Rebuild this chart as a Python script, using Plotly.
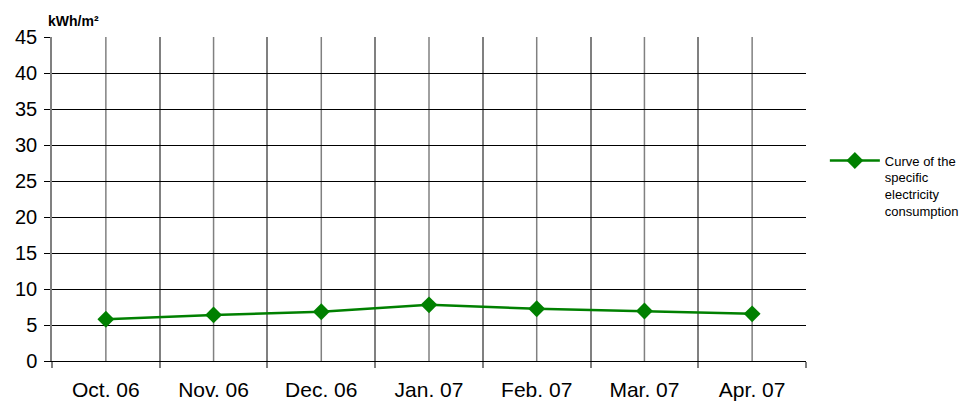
import plotly.graph_objects as go

months = ["Oct. 06", "Nov. 06", "Dec. 06", "Jan. 07", "Feb. 07", "Mar. 07", "Apr. 07"]
consumption = [5.8, 6.4, 6.85, 7.8, 7.25, 6.95, 6.55]
y_ticks = list(range(0, 50, 5))

GREEN = "#008000"
GRID_V = "#808080"
FONT = "Liberation Sans, Arial, sans-serif"

fig = go.Figure()

fig.add_trace(
    go.Scatter(
        x=months,
        y=consumption,
        name="Curve of the<br>specific<br>electricity<br>consumption",
        mode="lines+markers",
        line=dict(color=GREEN, width=2.5),
        marker=dict(symbol="diamond", size=13, color=GREEN),
    )
)

# gray vertical lines through each category centre
for m in months:
    fig.add_vline(x=m, line=dict(color=GRID_V, width=1.5), layer="below")

fig.update_xaxes(
    type="category",
    range=[-0.5, len(months) - 0.5],
    tickson="boundaries",
    showgrid=True,
    gridcolor=GRID_V,
    gridwidth=1.5,
    ticks="outside",
    ticklen=6,
    tickcolor=GRID_V,
    tickwidth=1.5,
    showline=True,
    linecolor="black",
    linewidth=1,
    tickfont=dict(size=21, color="black"),
    ticklabelstandoff=10,
    automargin=False,
)
fig.update_yaxes(
    range=[0, 45],
    tickvals=y_ticks,
    showgrid=True,
    gridcolor="black",
    gridwidth=1,
    zeroline=False,
    ticks="outside",
    ticklen=6,
    tickcolor="black",
    showline=True,
    linecolor=GRID_V,
    linewidth=1.5,
    tickfont=dict(size=20, color="black"),
    ticklabelstandoff=3,
    automargin=False,
)

fig.add_annotation(
    text="<b>kWh/m²</b>", xref="paper", yref="paper", x=-0.008, y=1.02,
    xanchor="left", yanchor="bottom", showarrow=False,
    font=dict(size=14, color="black"),
)

# page body has an 8px margin, so the figure is 8px smaller than the window
fig.update_layout(
    width=968,
    height=393,
    margin=dict(l=44, r=168, t=29, b=40),
    plot_bgcolor="white",
    paper_bgcolor="white",
    font=dict(family=FONT, color="black"),
    showlegend=True,
    legend=dict(
        x=1.025, y=0.665, xanchor="left", yanchor="top",
        valign="top", font=dict(size=13), itemwidth=50,
        bgcolor="rgba(0,0,0,0)",
    ),
)

fig.write_html("out.html")
